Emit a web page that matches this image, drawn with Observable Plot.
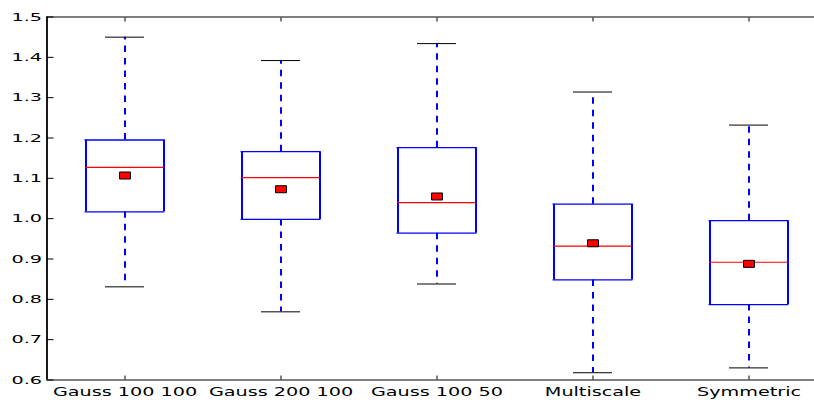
<!DOCTYPE html>
<html>
<head>
<meta charset="utf-8">
<script src="https://cdn.jsdelivr.net/npm/d3@7"></script>
<script src="https://cdn.jsdelivr.net/npm/@observablehq/plot@0.6"></script>
<style>
  html, body { margin: 0; padding: 0; background: #fff; overflow: hidden; }
  #chart svg { display: block; overflow: hidden; }
</style>
</head>
<body>
<div id="chart"></div>
<script>
const categories = ["Gauss 100 100", "Gauss 200 100", "Gauss 100 50", "Multiscale", "Symmetric"];
const whiskerLow = [0.831, 0.769, 0.838, 0.618, 0.630];
const quartile1 = [1.017, 0.998, 0.964, 0.848, 0.787];
const medians = [1.127, 1.102, 1.040, 0.932, 0.892];
const quartile3 = [1.195, 1.166, 1.176, 1.036, 0.995];
const whiskerHigh = [1.450, 1.392, 1.434, 1.314, 1.232];
const means = [1.107, 1.073, 1.055, 0.939, 0.888];
const yTicks = [0.6, 0.7, 0.8, 0.9, 1.0, 1.1, 1.2, 1.3, 1.4, 1.5];

const rows = categories.map((name, i) => ({
  pos: i + 1, name,
  lo: whiskerLow[i], q1: quartile1[i], med: medians[i],
  q3: quartile3[i], hi: whiskerHigh[i], mean: means[i]
}));
const positions = rows.map(d => d.pos);

const BOX = 0.25, CAP = 0.125;
const blue = "#0000ff", red = "#ff0000";
const meanSymbol = { draw(ctx) { ctx.rect(-5.5, -3.5, 11, 7); } };

const chart = Plot.plot({
  width: 814,
  height: 406,
  marginLeft: 46.5,
  marginRight: 0,
  marginTop: 16.5,
  marginBottom: 26.5,
  style: { fontFamily: "DejaVu Sans", fontSize: "11px", color: "#000", background: "#fff" },
  x: { type: "linear", domain: [0.5, 5.5], range: [46.5, 826.5], label: null },
  y: { domain: [0.6, 1.5], range: [379.5, 16.5], label: null },
  marks: [
    // whiskers
    Plot.ruleX(rows, { x: "pos", y1: "q3", y2: "hi", stroke: blue, strokeWidth: 2, strokeDasharray: "6.5,6" }),
    Plot.ruleX(rows, { x: "pos", y1: "q1", y2: "lo", stroke: blue, strokeWidth: 2, strokeDasharray: "6.5,6" }),
    // caps
    Plot.ruleY(rows, { y: "hi", x1: d => d.pos - CAP, x2: d => d.pos + CAP, stroke: "#000", strokeWidth: 1 }),
    Plot.ruleY(rows, { y: "lo", x1: d => d.pos - CAP, x2: d => d.pos + CAP, stroke: "#000", strokeWidth: 1 }),
    // box sides
    Plot.ruleX(rows, { x: d => d.pos - BOX, y1: "q1", y2: "q3", stroke: blue, strokeWidth: 2 }),
    Plot.ruleX(rows, { x: d => d.pos + BOX, y1: "q1", y2: "q3", stroke: blue, strokeWidth: 2 }),
    Plot.ruleY(rows, { y: "q1", x1: d => d.pos - BOX - 0.006, x2: d => d.pos + BOX + 0.006, stroke: blue, strokeWidth: 1.3 }),
    Plot.ruleY(rows, { y: "q3", x1: d => d.pos - BOX - 0.006, x2: d => d.pos + BOX + 0.006, stroke: blue, strokeWidth: 1.3 }),
    // medians
    Plot.ruleY(rows, { y: "med", x1: d => d.pos - BOX, x2: d => d.pos + BOX, stroke: red, strokeWidth: 1.2 }),
    // means
    Plot.dot(rows, { x: "pos", y: "mean", symbol: meanSymbol, fill: red, stroke: "#000", strokeWidth: 1 }),
    // frame
    Plot.ruleY([0.6, 1.5], { stroke: "#000", strokeWidth: 1 }),
    Plot.ruleX([0.5], { stroke: "#000", strokeWidth: 1.8 }),
    // axes
    Plot.axisY({ ticks: yTicks, tickSize: 0, tickPadding: 5, tickFormat: d3.format(".1f"), fontSize: 11 }),
    Plot.axisY({ ticks: yTicks, tickSize: -7, tickFormat: () => "", strokeWidth: 1 }),
    Plot.axisX({ anchor: "bottom", ticks: positions, tickSize: 0, tickPadding: 7, tickFormat: i => categories[i - 1], fontSize: 12 }),
    Plot.axisX({ anchor: "bottom", ticks: positions, tickSize: -4, tickFormat: () => "" }),
    Plot.axisX({ anchor: "top", ticks: positions, tickSize: -4, tickFormat: () => "" })
  ]
});

document.getElementById("chart").appendChild(chart);

// stretch axis labels horizontally like the reference
const stretch = (sel, sx) => {
  chart.querySelectorAll(sel).forEach(t => {
    const tr = t.getAttribute("transform");
    if (tr) {
      t.setAttribute("transform", tr + ` scale(${sx},1)`);
    } else {
      const x = +t.getAttribute("x") || 0, y = +t.getAttribute("y") || 0;
      t.setAttribute("x", 0); t.setAttribute("y", 0);
      t.setAttribute("transform", `translate(${x},${y}) scale(${sx},1)`);
    }
  });
};
stretch('g[aria-label="y-axis tick label"] text', 1.75);
stretch('g[aria-label="x-axis tick label"] text', 1.6);
</script>
</body>
</html>
